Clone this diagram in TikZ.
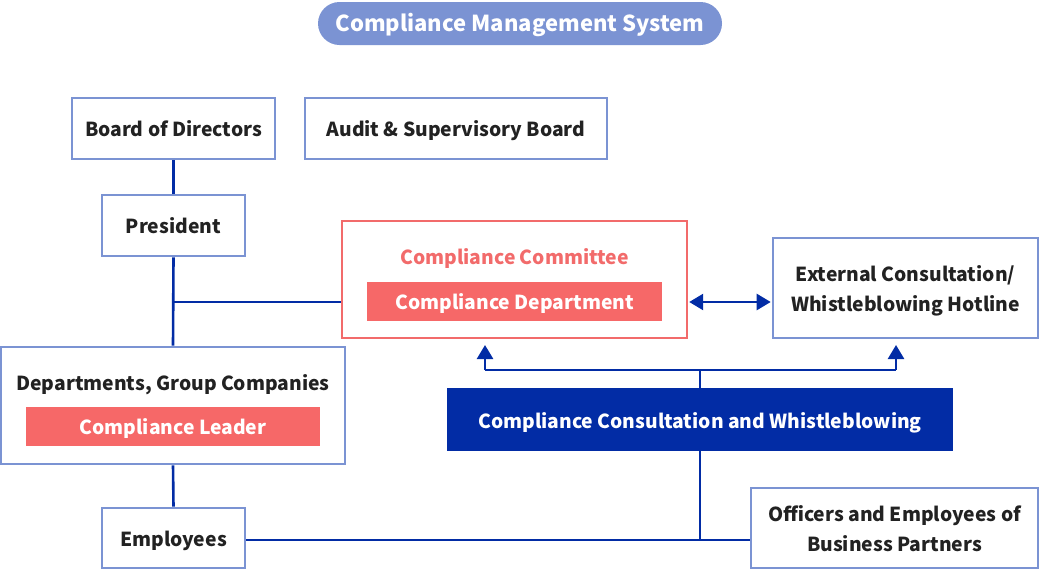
\documentclass[tikz,border=0pt]{standalone}
\usepackage{fontspec}
\setmainfont{Noto Sans CJK KR}
\usetikzlibrary{arrows.meta}
\definecolor{lblue}{HTML}{7B93D3}
\definecolor{cred}{HTML}{F26B6B}
\definecolor{fred}{HTML}{F66868}
\definecolor{dblue}{HTML}{022CA5}
\definecolor{txt}{HTML}{222222}
\begin{document}
\begin{tikzpicture}[x=1pt,y=-1pt,
  lower/.style={text height=20.5pt,text depth=4pt},
  twolines/.style={text height=50.5pt,text depth=4pt},
  box/.style={draw=lblue,line width=2.6pt,fill=white,text=txt,font=\fontsize{19.3}{30}\selectfont\bfseries,align=center,inner sep=0pt,lower},
  redbox/.style={draw=cred,line width=2.4pt,fill=white,inner sep=0pt},
  redfill/.style={fill=fred,text=white,font=\fontsize{19.3}{22}\selectfont\bfseries,inner sep=0pt,lower},
  conn/.style={draw=dblue,line width=2.6pt},
  tip/.style={-{Triangle[width=16pt,length=14pt]}},
  tips/.style={{Triangle[width=16pt,length=14pt]}-{Triangle[width=16pt,length=14pt]}}
]
\useasboundingbox (0,0) rectangle (1040,571);
% title
\node[fill=lblue,rounded corners=21.5pt,minimum width=404pt,minimum height=43pt,inner sep=0pt,text=white,font=\fontsize{22}{24}\selectfont\bfseries,text height=20.5pt,text depth=4pt] (title) at (520,23.5) {Compliance Management System};
% boxes
\node[box,minimum width=203pt,minimum height=61pt] (board) at (173.5,128.5) {Board of Directors};
\node[box,minimum width=302pt,minimum height=61pt] (audit) at (456,128.5) {Audit \& Supervisory Board};
\node[box,minimum width=143pt,minimum height=61pt] (pres) at (173.5,225.5) {President};
\node[redbox,minimum width=345pt,minimum height=117pt] (comm) at (514.5,279.5) {};
\node[text=cred,font=\fontsize{19.3}{22}\selectfont\bfseries,lower,inner sep=0pt] (commlab) at (514.5,256) {Compliance Committee};
\node[redfill,minimum width=295pt,minimum height=39pt] (cdept) at (514.5,301.5) {Compliance Department};
\node[box,twolines,minimum width=265pt,minimum height=100pt] (ext) at (905.5,288) {External Consultation/\\Whistleblowing Hotline};
\node[box,minimum width=344pt,minimum height=117pt] (dept) at (173,405.5) {};
\node[text=txt,font=\fontsize{19.3}{22}\selectfont\bfseries,lower,inner sep=0pt] (deptlab) at (173,382) {Departments, Group Companies};
\node[redfill,minimum width=294pt,minimum height=39pt] (leader) at (173,426.5) {Compliance Leader};
\node[fill=dblue,text=white,font=\fontsize{19.3}{22}\selectfont\bfseries,minimum width=506pt,minimum height=63pt,inner sep=0pt,text height=22pt,text depth=4pt] (consult) at (700,419.5) {Compliance Consultation and Whistleblowing};
\node[box,twolines,minimum width=287pt,minimum height=80pt] (off) at (894.5,528) {Officers and Employees of\\Business Partners};
\node[box,minimum width=143pt,minimum height=60pt] (emp) at (173.5,538) {Employees};
% connectors
\coordinate (j1) at (173.5,302);
\coordinate (c1) at (comm.west |- j1);
\coordinate (e1) at (emp.east |- 0,540);
\coordinate (o1) at (off.west |- 0,540);
\coordinate (j2) at (consult.south |- 0,540);
\coordinate (j3) at (consult.north |- 0,370);
\coordinate (a1) at (485,370);
\coordinate (a2) at (896,370);
\coordinate (t1) at (485,345);
\coordinate (t2) at (896,345);
\coordinate (d1) at (comm.east |- 0,302);
\coordinate (d2) at (ext.west |- 0,302);
\draw[conn] (board.south) -- (pres.north);
\draw[conn] (pres.south) -- (dept.north);
\draw[conn] (j1) -- (c1);
\draw[conn] (dept.south) -- (emp.north);
\draw[conn] (e1) -- (o1);
\draw[conn] (consult.south) -- (j2);
\draw[conn] (consult.north) -- (j3);
\draw[conn,tip] (a1) -- (t1);
\draw[conn,tip] (a2) -- (t2);
\draw[conn] (a1) -- (a2);
\draw[conn,tips,shorten <=1pt,shorten >=1pt] (d1) -- (d2);
\end{tikzpicture}
\end{document}
